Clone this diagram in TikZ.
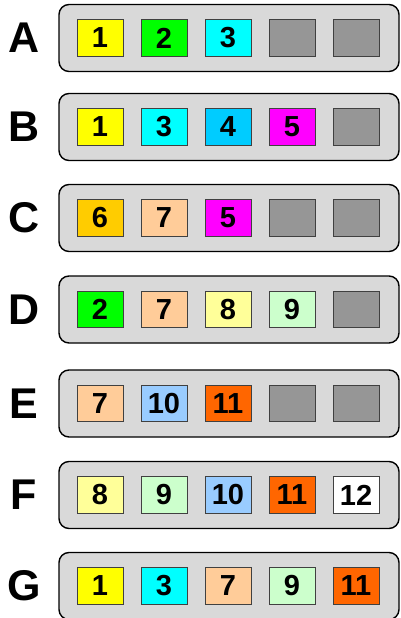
\documentclass[tikz,border=0pt]{standalone}
\usepackage{fontspec}
\setmainfont{Liberation Sans}
\usepackage{xcolor}
\definecolor{traygray}{HTML}{D9D9D9}
\definecolor{c0}{HTML}{969696}
\definecolor{c1}{HTML}{FFFF00}
\definecolor{c2}{HTML}{00FF00}
\definecolor{c3}{HTML}{00FFFF}
\definecolor{c4}{HTML}{00CCFF}
\definecolor{c5}{HTML}{FF00FF}
\definecolor{c6}{HTML}{FFCC00}
\definecolor{c7}{HTML}{FFCC99}
\definecolor{c8}{HTML}{FFFF99}
\definecolor{c9}{HTML}{CCFFCC}
\definecolor{c10}{HTML}{99CCFF}
\definecolor{c11}{HTML}{FF6600}
\definecolor{c12}{HTML}{FFFFFF}

\begin{document}
\begin{tikzpicture}[
  x=1pt, y=-1pt,
  tray/.style={rectangle, rounded corners=10pt, draw=black, line width=1.4pt,
               fill=traygray, minimum width=340pt, minimum height=67pt},
  cell/.style={rectangle, draw=black!75, line width=0.8pt, inner sep=0pt,
               minimum width=46pt, minimum height=36.5pt,
               font=\fontsize{29}{29}\selectfont\bfseries},
  tag/.style={font=\fontsize{43}{43}\selectfont\bfseries}]
  \useasboundingbox (0,0) rectangle (400,618);
  % one tray per row, five slots each (0 = empty slot)
  \foreach \row/\y/\items in {A/38/{1,2,3,0,0}, B/127/{1,3,4,5,0},
      C/218/{6,7,5,0,0}, D/309.5/{2,7,8,9,0}, E/403.5/{7,10,11,0,0},
      F/495/{8,9,10,11,12}, G/586/{1,3,7,9,11}} {
    \node[tray] (tray\row) at (229,\y) {};
    \node[tag] (tag\row) at (24,\y) {\row};
    \foreach \n [count=\i] in \items
      \node[cell, fill=c\n] (\row\i) at (36+64*\i,\y) {\ifnum\n>0 \n\fi};
  }
\end{tikzpicture}
\end{document}
